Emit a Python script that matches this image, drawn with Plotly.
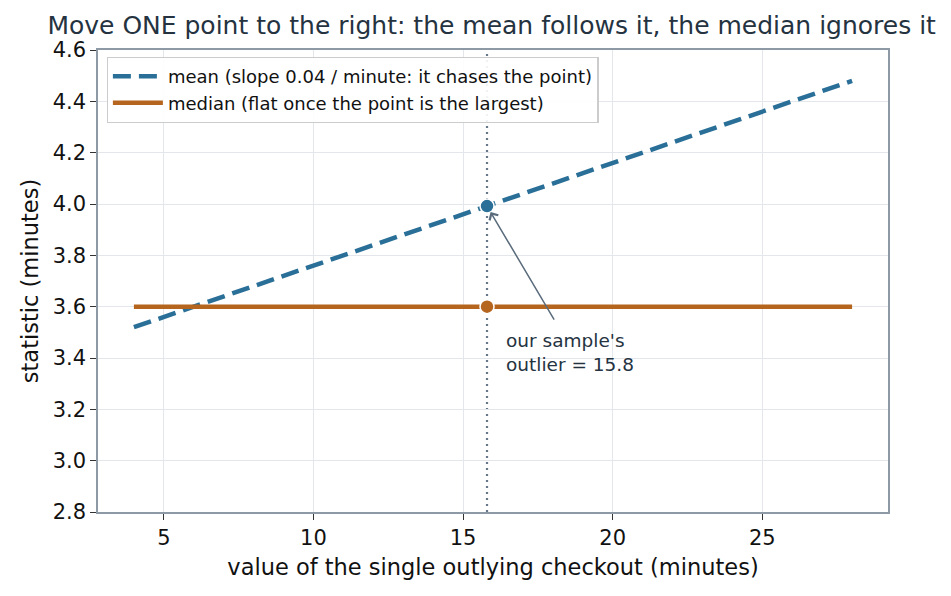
import plotly.graph_objects as go

outlier_values = [4, 8, 12, 16, 20, 24, 28]
mean_values = [3.52, 3.68, 3.84, 4.00, 4.16, 4.32, 4.48]
median_values = [3.6, 3.6, 3.6, 3.6, 3.6, 3.6, 3.6]
sample_outlier = 15.8
sample_mean = 3.992
sample_median = 3.6

BLUE = "#2a6f97"
ORANGE = "#b5651d"
SLATE = "#5a6b7b"
DARK = "#253341"
FONT = "DejaVu Sans"

fig = go.Figure()
fig.add_trace(go.Scatter(
    x=outlier_values, y=mean_values, mode="lines",
    line=dict(color=BLUE, width=4.5, dash="18px,8px"),
    name="mean (slope 0.04 / minute: it chases the point)"))
fig.add_trace(go.Scatter(
    x=outlier_values, y=median_values, mode="lines",
    line=dict(color=ORANGE, width=4.5),
    name="median (flat once the point is the largest)"))
fig.add_trace(go.Scatter(
    x=[sample_outlier], y=[sample_mean], mode="markers",
    marker=dict(color=BLUE, size=14, line=dict(color="white", width=1.5)),
    showlegend=False))
fig.add_trace(go.Scatter(
    x=[sample_outlier], y=[sample_median], mode="markers",
    marker=dict(color=ORANGE, size=14, line=dict(color="white", width=1.5)),
    showlegend=False))

fig.add_shape(type="line", x0=sample_outlier, x1=sample_outlier, y0=0, y1=1,
              yref="paper", xref="x", line=dict(color="#66778a", width=2.2, dash="2px,4px"),
              layer="below")

fig.add_annotation(x=sample_outlier, y=sample_mean, xref="x", yref="y",
                   text="", showarrow=True, arrowhead=4, arrowsize=1.3,
                   arrowwidth=1.5, arrowcolor=SLATE, ax=68, ay=115,
                   standoff=7)
fig.add_annotation(x=16.37, y=3.515, xref="x", yref="y",
                   text="our sample's<br>outlier = 15.8", showarrow=False,
                   xanchor="left", yanchor="top", align="left",
                   font=dict(family=FONT, size=18.5, color=DARK))

axis_common = dict(
    showline=True, linecolor="#8d99a5", linewidth=1.5, mirror=True,
    showgrid=True, gridcolor="#e3e7eb", gridwidth=1.2,
    ticks="outside", ticklen=6, tickcolor="#333", tickwidth=1.2,
    tickfont=dict(family=FONT, size=21, color="#111"),
    zeroline=False,
)

fig.update_layout(
    width=951, height=596,
    margin=dict(l=98, r=63, t=50, b=84),
    paper_bgcolor="white", plot_bgcolor="white",
    title=dict(text="Move ONE point to the right: the mean follows it, the median ignores it",
               x=0.517, xanchor="center", y=0.958, yanchor="middle",
               font=dict(family=FONT, size=25, color=DARK)),
    xaxis=dict(range=[2.8, 29.2], tickvals=[5, 10, 15, 20, 25],
               title=dict(text="value of the single outlying checkout (minutes)",
                          font=dict(family=FONT, size=22.5, color="#111"), standoff=10),
               **axis_common),
    yaxis=dict(range=[2.8, 4.6], dtick=0.2, tickformat=".1f",
               title=dict(text="statistic (minutes)",
                          font=dict(family=FONT, size=22.5, color="#111"), standoff=8),
               **axis_common),
    legend=dict(x=0.011, y=0.985, xanchor="left", yanchor="top",
                bgcolor="rgba(255,255,255,0.9)", bordercolor="#cccccc", borderwidth=1.2,
                font=dict(family=FONT, size=18, color="#111"),
                itemwidth=50, tracegroupgap=2),
    showlegend=True,
)

fig.write_html("out.html")
